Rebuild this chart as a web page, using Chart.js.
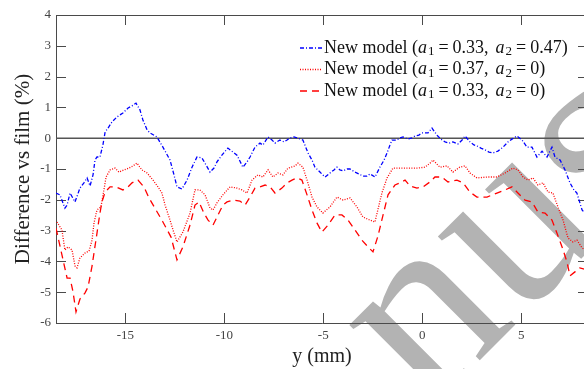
<!DOCTYPE html>
<html>
<head>
<meta charset="utf-8">
<script src="https://cdn.jsdelivr.net/npm/chart.js@4.4.1/dist/chart.umd.min.js"></script>
<style>
html,body{margin:0;padding:0;background:#fff;overflow:hidden;width:584px;height:369px;}
canvas{display:block;}
</style>
</head>
<body>
<canvas id="c" width="594" height="369"></canvas>
<script>
// ---- data (x in mm, y in %) ----
const xTickValues = [-15, -10, -5, 0, 5];
const yTickValues = [-6, -5, -4, -3, -2, -1, 0, 1, 2, 3, 4];

const blueX = [-18.50,-18.30,-18.05,-17.94,-17.79,-17.54,-17.29,-17.09,-16.93,-16.78,-16.63,-16.53,-16.43,-16.28,-16.13,-16.02,-15.87,-15.67,-15.42,-15.12,-14.86,-14.66,-14.46,-14.26,-14.11,-13.90,-13.75,-13.40,-13.10,-12.74,-12.54,-12.39,-12.14,-11.88,-11.63,-11.38,-11.13,-10.92,-10.72,-10.52,-10.37,-10.12,-9.82,-9.56,-9.36,-9.06,-8.85,-8.70,-8.45,-8.20,-8.05,-7.79,-7.59,-7.44,-7.19,-6.98,-6.83,-6.68,-6.48,-6.33,-6.03,-5.77,-5.57,-5.42,-5.17,-4.91,-4.66,-4.46,-4.31,-4.16,-4.00,-3.80,-3.65,-3.40,-3.20,-3.00,-2.79,-2.64,-2.39,-2.14,-1.93,-1.78,-1.63,-1.53,-1.28,-1.13,-0.97,-0.72,-0.52,-0.37,-0.17,-0.02,0.29,0.49,0.74,0.94,1.15,1.35,1.55,1.80,2.01,2.16,2.41,2.61,2.76,2.96,3.17,3.37,3.57,3.82,4.08,4.33,4.53,4.78,5.04,5.29,5.54,5.79,6.05,6.30,6.55,6.70,6.96,7.21,7.46,7.66,7.81,8.07,8.30];
const blueY = [-1.78,-1.84,-2.27,-2.17,-1.78,-2.07,-1.62,-1.45,-1.29,-1.55,-1.19,-0.71,-0.61,-0.61,-0.22,0.20,0.33,0.53,0.69,0.82,0.98,1.05,1.14,0.92,0.59,0.27,0.17,0.04,-0.29,-0.71,-1.19,-1.58,-1.65,-1.36,-0.94,-0.61,-0.64,-0.87,-1.10,-0.97,-0.77,-0.55,-0.32,-0.45,-0.55,-0.94,-0.77,-0.61,-0.29,-0.16,-0.22,0.04,-0.06,-0.16,-0.06,-0.12,-0.06,0.01,0.04,0.01,-0.06,-0.48,-0.71,-0.94,-1.10,-1.26,-1.13,-1.03,-0.94,-1.03,-1.06,-1.00,-1.00,-1.10,-1.16,-1.23,-1.23,-1.16,-1.26,-0.94,-0.71,-0.48,-0.22,-0.06,-0.06,0.01,0.04,-0.03,0.01,0.07,0.10,0.17,0.17,0.33,0.10,-0.03,-0.12,-0.16,-0.12,-0.19,-0.06,0.07,-0.12,-0.22,-0.25,-0.32,-0.38,-0.45,-0.48,-0.42,-0.29,-0.12,-0.03,0.07,-0.06,-0.29,-0.29,-0.61,-0.42,-0.61,-0.29,-0.61,-0.71,-1.03,-1.45,-1.68,-1.78,-2.33,-2.50];

const dotX = [-18.45,-18.20,-18.05,-17.89,-17.69,-17.54,-17.44,-17.29,-17.04,-16.83,-16.68,-16.58,-16.43,-16.23,-16.08,-15.97,-15.77,-15.52,-15.32,-15.07,-14.81,-14.61,-14.41,-14.16,-13.90,-13.60,-13.35,-13.15,-12.99,-12.74,-12.59,-12.39,-12.09,-11.73,-11.48,-11.23,-10.97,-10.72,-10.57,-10.37,-10.07,-9.71,-9.36,-9.11,-8.85,-8.60,-8.30,-8.05,-7.79,-7.54,-7.29,-7.04,-6.78,-6.43,-6.28,-6.03,-5.82,-5.57,-5.32,-5.02,-4.66,-4.31,-4.00,-3.65,-3.30,-3.00,-2.64,-2.39,-2.04,-1.78,-1.48,-1.13,-0.62,-0.22,0.14,0.39,0.54,0.89,1.25,1.55,1.89,2.16,2.41,2.76,3.27,3.77,4.18,4.58,4.83,5.09,5.34,5.59,5.84,6.10,6.35,6.60,6.85,7.11,7.36,7.61,7.81,8.07,8.30];
const dotY = [-2.72,-2.98,-3.63,-3.53,-3.63,-4.15,-4.21,-3.89,-3.73,-3.66,-3.31,-2.75,-2.33,-2.23,-1.68,-1.26,-1.03,-0.97,-1.10,-1.03,-0.97,-0.90,-0.81,-1.03,-1.13,-1.36,-1.58,-1.78,-2.17,-2.66,-2.98,-3.37,-3.05,-2.43,-1.68,-1.68,-1.84,-2.27,-2.33,-2.10,-1.84,-1.58,-1.62,-1.68,-1.78,-1.36,-1.19,-1.26,-1.03,-1.26,-1.13,-1.19,-0.97,-0.90,-0.81,-0.94,-1.36,-1.91,-2.23,-2.43,-2.23,-1.91,-2.01,-1.94,-2.23,-2.56,-2.66,-2.72,-1.78,-1.29,-0.97,-0.97,-0.97,-0.97,-0.94,-0.81,-0.71,-0.94,-0.90,-1.10,-0.94,-0.90,-1.13,-1.29,-1.26,-1.26,-1.13,-0.97,-1.03,-1.26,-1.36,-1.29,-1.52,-1.45,-1.75,-1.78,-2.23,-2.66,-3.24,-3.37,-3.31,-3.56,-3.66];

const dashX = [-18.50,-18.20,-17.94,-17.79,-17.64,-17.49,-17.29,-17.04,-16.88,-16.68,-16.43,-16.28,-16.18,-16.02,-15.77,-15.47,-15.12,-14.86,-14.66,-14.36,-14.06,-13.80,-13.45,-13.10,-12.69,-12.39,-12.09,-11.73,-11.48,-11.28,-11.03,-10.82,-10.57,-10.07,-9.86,-9.56,-9.21,-8.95,-8.70,-8.45,-8.20,-7.94,-7.69,-7.44,-7.09,-6.83,-6.58,-6.33,-6.08,-5.82,-5.57,-5.32,-5.07,-4.76,-4.41,-4.06,-3.75,-3.40,-3.05,-2.74,-2.49,-2.24,-1.98,-1.73,-1.38,-1.13,-0.87,-0.62,-0.27,0.04,0.39,0.64,0.99,1.30,1.75,2.06,2.41,2.76,3.27,3.77,4.18,4.53,4.83,5.19,5.54,5.84,6.20,6.55,6.80,7.06,7.31,7.46,7.71,7.96,8.30];
const dashY = [-2.92,-3.79,-4.54,-4.54,-4.99,-5.64,-5.22,-5.03,-4.83,-4.15,-3.08,-2.43,-2.07,-1.75,-1.58,-1.58,-1.68,-1.58,-1.45,-1.36,-1.58,-1.94,-2.33,-2.72,-3.21,-3.95,-3.53,-2.82,-2.17,-2.07,-2.43,-2.66,-2.82,-2.17,-2.07,-2.01,-2.04,-2.17,-1.91,-1.62,-1.58,-1.52,-1.58,-1.78,-1.62,-1.45,-1.36,-1.29,-1.36,-1.84,-2.33,-2.75,-3.05,-2.82,-2.49,-2.49,-2.66,-2.98,-3.31,-3.53,-3.69,-3.18,-2.49,-1.84,-1.52,-1.45,-1.36,-1.55,-1.62,-1.58,-1.42,-1.26,-1.26,-1.42,-1.36,-1.45,-1.75,-1.91,-1.91,-1.78,-1.68,-1.58,-1.78,-2.01,-2.07,-2.40,-2.43,-2.66,-3.08,-3.53,-4.02,-4.47,-4.34,-4.21,-4.27];

const legendA1 = ['0.33', '0.37', '0.33'];
const legendA2 = ['0.47', '0', '0'];

// ---- styling ----
const SERIF = '"Liberation Serif", "DejaVu Serif", serif';
const AXIS_COLOR = '#4a4a4a';
const TICK_LEN = 10;

function pts(xs, ys) { return xs.map((x, i) => ({x: x, y: ys[i]})); }

const datasets = [
  {label: 'blue', data: pts(blueX, blueY), borderColor: '#0000ff', borderDash: [4, 2, 1, 2], borderWidth: 1.3},
  {label: 'dot', data: pts(dotX, dotY), borderColor: '#ff0000', borderDash: [1, 1.5], borderWidth: 1.3},
  {label: 'dash', data: pts(dashX, dashY), borderColor: '#ff0000', borderDash: [7, 5], borderWidth: 1.3}
];
datasets.forEach(d => { d.pointRadius = 0; d.fill = false; d.tension = 0; });

const watermark = {
  id: 'watermark',
  beforeDraw(chart) {
    const ctx = chart.ctx;
    ctx.save();
    ctx.fillStyle = '#fff';
    ctx.fillRect(0, 0, chart.width, chart.height);
    ctx.fillStyle = '#b3b3b3';
    ctx.font = '255px ' + SERIF;
    ctx.translate(428, 412);
    ctx.rotate(-Math.PI / 4);
    ctx.textBaseline = 'alphabetic';
    ctx.fillText('nus', 0, 0);
    ctx.restore();
  }
};

const axesPlugin = {
  id: 'axesBox',
  beforeDatasetsDraw(chart) {
    const {ctx, chartArea: a, scales: {x, y}} = chart;
    ctx.save();
    ctx.strokeStyle = AXIS_COLOR;
    ctx.lineWidth = 1;
    ctx.beginPath();
    ctx.moveTo(a.left + 0.5, a.top + 0.5);
    ctx.lineTo(a.left + 0.5, a.bottom + 0.5);
    ctx.lineTo(a.right, a.bottom + 0.5);
    ctx.moveTo(a.left, a.top + 0.5);
    ctx.lineTo(a.right, a.top + 0.5);
    ctx.moveTo(a.right - 0.5, a.top);
    ctx.lineTo(a.right - 0.5, a.bottom);
    xTickValues.forEach(v => {
      const px = Math.round(x.getPixelForValue(v)) + 0.5;
      ctx.moveTo(px, a.bottom); ctx.lineTo(px, a.bottom - TICK_LEN);
      ctx.moveTo(px, a.top); ctx.lineTo(px, a.top + TICK_LEN);
    });
    yTickValues.forEach(v => {
      const py = Math.round(y.getPixelForValue(v)) + 0.5;
      ctx.moveTo(a.left, py); ctx.lineTo(a.left + TICK_LEN, py);
      ctx.moveTo(a.right, py); ctx.lineTo(a.right - TICK_LEN, py);
    });
    ctx.stroke();
    // zero line
    const y0 = y.getPixelForValue(0);
    ctx.strokeStyle = '#555';
    ctx.lineWidth = 1.6;
    ctx.beginPath();
    ctx.moveTo(a.left, y0);
    ctx.lineTo(a.right, y0);
    ctx.stroke();
    ctx.restore();
  }
};

const legendPlugin = {
  id: 'mathLegend',
  afterDatasetsDraw(chart) {
    const ctx = chart.ctx;
    const rowsY = [48, 69.5, 91];
    const size = 18;
    ctx.save();
    datasets.forEach((d, i) => {
      const yy = rowsY[i];
      ctx.strokeStyle = d.borderColor;
      ctx.lineWidth = d.borderWidth;
      ctx.setLineDash(d.borderDash);
      ctx.beginPath();
      ctx.moveTo(300, yy);
      ctx.lineTo(322, yy);
      ctx.stroke();
      ctx.setLineDash([]);
      ctx.fillStyle = '#111';
      ctx.textBaseline = 'middle';
      let xx = 324;
      const put = (t, font, dy, gap) => {
        ctx.font = font;
        ctx.fillText(t, xx, yy + dy);
        xx += ctx.measureText(t).width + (gap || 0);
      };
      const reg = size + 'px ' + SERIF;
      const ita = 'italic ' + size + 'px ' + SERIF;
      const sub = Math.round(size * 0.7) + 'px ' + SERIF;
      put('New model (', reg, 0);
      put('a', ita, 0, 1);
      put('1', sub, 4, 4);
      put('=', reg, 0, 4);
      put(legendA1[i] + ',', reg, 0, 7);
      put('a', ita, 0, 1);
      put('2', sub, 4, 4);
      put('=', reg, 0, 4);
      put(legendA2[i] + ')', reg, 0);
    });
    ctx.restore();
  }
};

new Chart(document.getElementById('c'), {
  type: 'line',
  data: {datasets: datasets},
  options: {
    responsive: false,
    animation: false,
    layout: {padding: {top: 15, right: 6, left: 0, bottom: 0}},
    plugins: {legend: {display: false}, tooltip: {enabled: false}},
    scales: {
      x: {
        type: 'linear',
        min: -18.5,
        max: 8.37,
        grid: {display: false, drawTicks: false, tickLength: 0},
        border: {display: false},
        afterBuildTicks: s => { s.ticks = xTickValues.map(v => ({value: v})); },
        afterFit: s => { s.height = 46; },
        ticks: {font: {family: SERIF, size: 13}, color: '#444', padding: 5, maxRotation: 0, autoSkip: false, callback: v => String(v)},
        title: {display: true, text: 'y (mm)', font: {family: SERIF, size: 20}, color: '#222', padding: {top: 0, bottom: 0}}
      },
      y: {
        type: 'linear',
        min: -6,
        max: 4,
        grid: {display: false, drawTicks: false, tickLength: 0},
        border: {display: false},
        afterBuildTicks: s => { s.ticks = yTickValues.map(v => ({value: v})); },
        afterFit: s => { s.width = 56; },
        ticks: {font: {family: SERIF, size: 13}, color: '#444', padding: 5, autoSkip: false, callback: v => String(v)},
        title: {display: true, text: 'Difference vs film (%)', font: {family: SERIF, size: 21}, color: '#222', padding: {top: 11, bottom: 0}}
      }
    }
  },
  plugins: [watermark, axesPlugin, legendPlugin]
});
</script>
</body>
</html>
